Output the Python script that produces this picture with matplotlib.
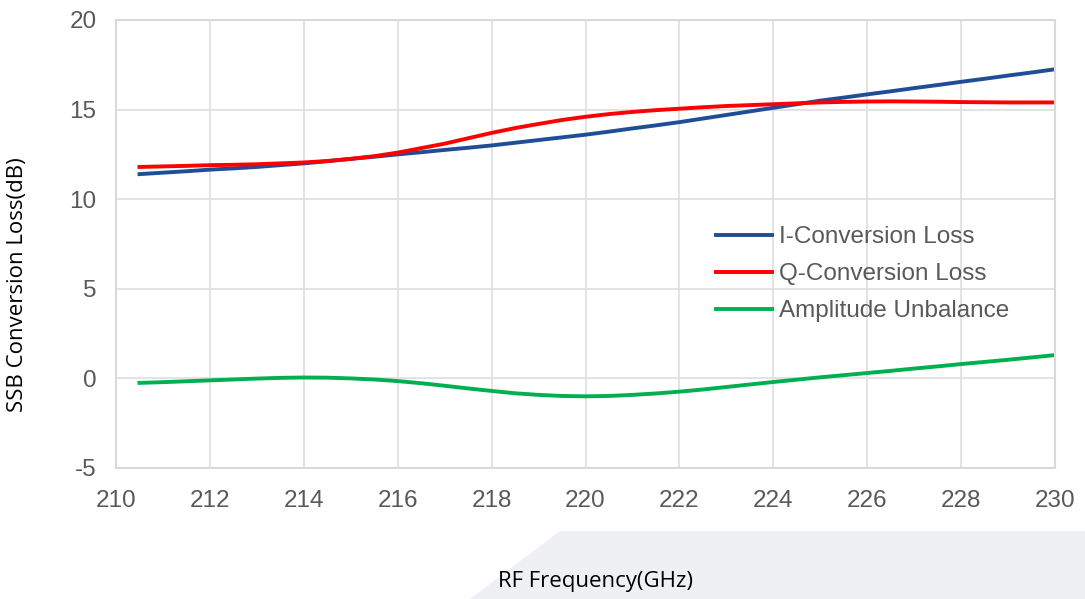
import matplotlib
matplotlib.use('Agg')
import matplotlib.pyplot as plt
from matplotlib.patches import Polygon

freq = [210.5, 211, 211.5, 212, 212.5, 213, 213.5, 214, 214.5, 215,
        215.5, 216, 216.5, 217, 217.5, 218, 218.5, 219, 219.5, 220,
        220.5, 221, 221.5, 222, 222.5, 223, 223.5, 224, 224.5, 225,
        225.5, 226, 226.5, 227, 227.5, 228, 228.5, 229, 229.5, 230]
i_loss = [11.4, 11.48, 11.56, 11.65, 11.72, 11.8, 11.9, 12.0, 12.12, 12.25,
          12.37, 12.5, 12.62, 12.75, 12.87, 13.0, 13.15, 13.3, 13.45, 13.6,
          13.77, 13.95, 14.12, 14.3, 14.5, 14.7, 14.9, 15.1, 15.3, 15.5,
          15.67, 15.85, 16.02, 16.2, 16.37, 16.55, 16.72, 16.9, 17.07, 17.25]
q_loss = [11.8, 11.83, 11.86, 11.9, 11.92, 11.95, 12.0, 12.05, 12.13, 12.25,
          12.4, 12.6, 12.85, 13.1, 13.4, 13.7, 13.97, 14.2, 14.42, 14.6,
          14.75, 14.87, 14.97, 15.05, 15.13, 15.2, 15.25, 15.3, 15.35, 15.4,
          15.43, 15.45, 15.46, 15.45, 15.44, 15.42, 15.41, 15.4, 15.4, 15.4]
amp_unb = [-0.25, -0.21, -0.16, -0.11, -0.06, -0.01, 0.03, 0.05, 0.04, 0.0,
           -0.06, -0.15, -0.27, -0.41, -0.56, -0.7, -0.83, -0.92, -0.98, -1.0,
           -0.98, -0.92, -0.84, -0.74, -0.62, -0.48, -0.34, -0.2, -0.07, 0.06,
           0.18, 0.3, 0.42, 0.55, 0.67, 0.8, 0.92, 1.04, 1.17, 1.3]

xticks = list(range(210, 231, 2))
yticks = [-5, 0, 5, 10, 15, 20]

fig = plt.figure(figsize=(10.85, 5.99), dpi=100)

# light grey backdrop shape at the bottom right
bg = Polygon([[560 / 1085, 1 - 531 / 599], [1, 1 - 531 / 599], [1, 0], [470 / 1085, 0]],
             closed=True, transform=fig.transFigure, facecolor='#eff0f4',
             edgecolor='none', zorder=0)
fig.patches.append(bg)

ax = fig.add_axes([116 / 1085, 1 - 468 / 599, (1055 - 116) / 1085, (468 - 20) / 599])
ax.patch.set_alpha(0)

ax.plot(freq, i_loss, color='#1f4e96', lw=2.8, label='I-Conversion Loss')
ax.plot(freq, q_loss, color='#ff0000', lw=2.8, label='Q-Conversion Loss')
ax.plot(freq, amp_unb, color='#00b050', lw=2.8, label='Amplitude Unbalance')

ax.set_xlim(210, 230)
ax.set_ylim(-5, 20)
ax.set_xticks(xticks)
ax.set_yticks(yticks)
ax.grid(True, color='#e0e0e0', lw=1.3)
ax.set_axisbelow(True)
for s in ax.spines.values():
    s.set_color('#d9d9d9')
    s.set_linewidth(1.5)
ax.tick_params(length=0, labelsize=17.5, labelcolor='#595959')
ax.tick_params(axis='x', pad=16)
ax.tick_params(axis='y', pad=14)
for lab in ax.get_xticklabels() + ax.get_yticklabels():
    lab.set_fontfamily('Liberation Sans')
ax.set_yticklabels([str(v) for v in yticks])

fig.text(595 / 1085, 1 - 582 / 599, 'RF Frequency(GHz)', ha='center', va='center',
         fontsize=16, family='Open Sans', color='black')
fig.text(18 / 1085, 1 - 285 / 599, 'SSB Conversion Loss(dB)', ha='center', va='center',
         rotation=90, fontsize=16, family='Open Sans', color='black')

leg = ax.legend(loc='upper left', frameon=False,
                prop={'family': 'Liberation Sans', 'size': 17.5}, handlelength=2.3,
                handletextpad=0.3, labelspacing=0.62, borderaxespad=0, borderpad=0)
for t in leg.get_texts():
    t.set_color('#595959')
leg.set_bbox_to_anchor((716 / 1085, 1 - 226 / 599), transform=fig.transFigure)

fig.savefig('out.png', dpi=100)
